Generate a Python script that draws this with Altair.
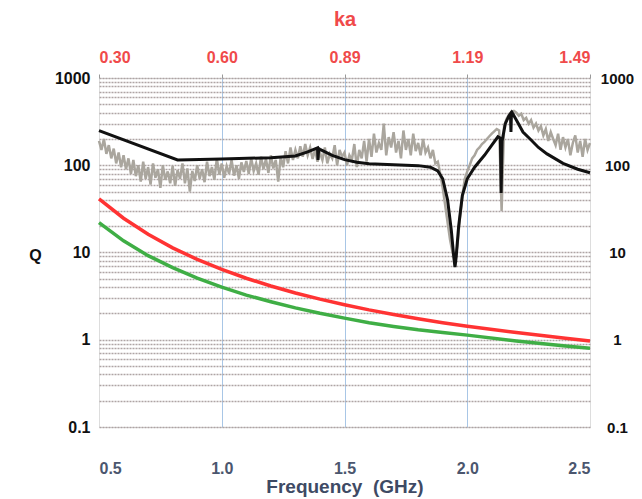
import altair as alt
import pandas as pd

# ---------------- data ----------------
freq_ticks = [0.5, 1.0, 1.5, 2.0, 2.5]
freq_labels = ["0.5", "1.0", "1.5", "2.0", "2.5"]
ka_labels = ["0.30", "0.60", "0.89", "1.19", "1.49"]
q_decades = [0.1, 1, 10, 100, 1000]
q_decade_labels = ["0.1", "1", "10", "100", "1000"]
q_grid = [0.1, 0.2, 0.3, 0.4, 0.5, 0.6, 0.7, 0.8, 0.9,
          1, 2, 3, 4, 5, 6, 7, 8, 9,
          10, 20, 30, 40, 50, 60, 70, 80, 90,
          100, 200, 300, 400, 500, 600, 700, 800, 900, 1000]

# measured Q (gray), sampled every 0.01 GHz from 0.50 to 2.50
meas_q = [
    190, 150, 200, 135, 170, 120, 155, 105, 140, 95,
    130, 90, 120, 80, 115, 75, 100, 65, 110, 70,
    95, 60, 105, 72, 90, 55, 100, 68, 85, 62,
    98, 58, 88, 70, 105, 62, 92, 50, 86, 66,
    100, 70, 90, 64, 110, 75, 95, 68, 120, 78,
    105, 72, 98, 80, 115, 76, 100, 70, 108, 84,
    112, 80, 120, 86, 105, 78, 125, 90, 118, 82,
    130, 92, 115, 65, 125, 95, 145, 105, 160, 115,
    150, 120, 165, 125, 175, 130, 160, 118, 150, 110,
    140, 115, 160, 105, 135, 120, 170, 100, 150, 125,
    140, 100, 130, 115, 175, 95, 150, 120, 190, 110,
    200, 125, 230, 140, 180, 150, 300, 130, 210, 160,
    240, 140, 190, 120, 250, 150, 200, 130, 230, 145,
    180, 130, 200, 140, 160, 120, 150, 105, 110, 80,
    55, 35, 22, 14, 10, 8, 12, 25, 45, 70,
    85, 100, 120, 130, 150, 160, 175, 185, 200, 215,
    230, 245, 260, 250, 30, 280, 340, 380, 410, 420,
    400, 370, 390, 330, 350, 300, 330, 270, 300, 250,
    280, 220, 260, 190, 240, 200, 170, 230, 150, 210,
    160, 200, 130, 180, 220, 140, 190, 125, 200, 150,
    180,
]
meas_f = [round(0.5 + 0.01 * i, 2) for i in range(len(meas_q))]

# simulated Q (black)
sim_f = [0.50, 0.82, 1.00, 1.20, 1.30, 1.35, 1.385, 1.390, 1.392, 1.395, 1.40,
         1.45, 1.50, 1.55, 1.60, 1.70, 1.80, 1.85, 1.88, 1.90, 1.92, 1.935,
         1.945, 1.95, 1.955, 1.965, 1.98, 2.00, 2.03, 2.07, 2.10, 2.125,
         2.135, 2.138, 2.142, 2.155, 2.17, 2.176, 2.178, 2.180, 2.183, 2.20,
         2.227, 2.256, 2.29, 2.325, 2.39, 2.45, 2.50]
sim_q = [250, 115, 118, 122, 128, 142, 156, 158, 115, 155, 152,
         130, 116, 108, 104, 101, 99, 95, 86, 70, 40, 18,
         9, 6.8, 9, 20, 45, 70, 95, 130, 170, 212,
         205, 48, 190, 300, 370, 390, 240, 390, 400, 330,
         240, 200, 160, 135, 105, 90, 82]

# bounds (red and green)
bound_f = [0.5, 0.6, 0.7, 0.8, 0.9, 1.0, 1.1, 1.2, 1.3, 1.4, 1.5,
           1.6, 1.7, 1.8, 1.9, 2.0, 2.2, 2.4, 2.5]
red_q = [41.2, 24.7, 16.2, 11.3, 8.34, 6.40, 5.07, 4.13, 3.44, 2.92, 2.52,
         2.20, 1.95, 1.74, 1.57, 1.43, 1.21, 1.04, 0.97]
green_q = [22.0, 13.6, 9.2, 6.7, 5.1, 4.0, 3.25, 2.73, 2.32, 2.01, 1.77,
           1.57, 1.42, 1.30, 1.21, 1.13, 0.97, 0.85, 0.80]

meas_df = pd.DataFrame({"f": meas_f, "q": meas_q})
sim_df = pd.DataFrame({"f": sim_f, "q": sim_q})
red_df = pd.DataFrame({"f": bound_f, "q": red_q})
green_df = pd.DataFrame({"f": bound_f, "q": green_q})


def lookup_expr(values, labels):
    expr = "''"
    for v, l in reversed(list(zip(values, labels))):
        expr = f"abs(datum.value - {v}) < 1e-6 ? '{l}' : ({expr})"
    return expr


FONT = "Liberation Sans"
W, H = 491, 349
xscale = alt.Scale(domain=[0.5, 2.5], nice=False, zero=False)
yscale = alt.Scale(type="log", domain=[0.1, 1000], nice=False)

x_bottom = alt.X(
    "f:Q", scale=xscale,
    axis=alt.Axis(
        values=freq_ticks, labelExpr=lookup_expr(freq_ticks, freq_labels),
        title="Frequency\u00a0\u00a0(GHz)", grid=True,
        gridColor=alt.condition("datum.value < 0.6 || datum.value > 2.4",
                                alt.value("transparent"), alt.value("#a8c6e6")),
        gridWidth=1, ticks=False, domain=False,
        labelPadding=33, labelColor="#4b566e", labelFont=FONT,
        labelFontSize=16, labelFontWeight="bold",
        titleColor="#3e4a64", titleFont=FONT, titleFontSize=19,
        titleFontWeight="bold", titleY=59, titleBaseline="middle",
    ),
)
y_left = alt.Y(
    "q:Q", scale=yscale,
    axis=alt.Axis(
        values=q_grid, labelExpr=lookup_expr(q_decades, q_decade_labels),
        title="Q", titleAngle=0, titleX=-64, titleY=177, titleAlign="center",
        titleBaseline="middle", titleFont=FONT, titleFontSize=16,
        titleFontWeight="bold", titleColor="#111111",
        grid=True, gridColor="#aea4a4", gridDash=[2, 1], gridWidth=1.3,
        ticks=False, domain=False, labelPadding=9, labelFont=FONT,
        labelFontSize=16, labelFontWeight="bold", labelColor="#111111",
    ),
)

x_top = alt.X(
    "f:Q", scale=xscale,
    axis=alt.Axis(
        orient="top", values=freq_ticks,
        labelExpr=lookup_expr(freq_ticks, ka_labels),
        title="ka", grid=False, ticks=True, tickSize=4, tickColor="#999999",
        domain=False, labelPadding=9, labelColor="#f04a4a", labelFont=FONT,
        labelFontSize=16, labelFontWeight="bold", titleColor="#f04a4a",
        titleFont=FONT, titleFontSize=20, titleFontWeight="bold",
        titleY=-59, titleBaseline="middle",
    ),
)
y_right = alt.Y(
    "q:Q", scale=yscale,
    axis=alt.Axis(
        orient="right", values=q_decades,
        labelExpr=lookup_expr(q_decades, q_decade_labels),
        title=None, grid=False, ticks=False, domain=False, labelPadding=27,
        labelAlign="center", labelBound=False,
        labelFont=FONT, labelFontSize=15, labelFontWeight="bold",
        labelColor="#111111",
    ),
)

gray = alt.Chart(meas_df).mark_line(color="#aaa69e", strokeWidth=2.5).encode(
    x=x_bottom, y=y_left)
red = alt.Chart(red_df).mark_line(color="#ff3333", strokeWidth=3.5).encode(
    x=alt.X("f:Q", scale=xscale, axis=None),
    y=alt.Y("q:Q", scale=yscale, axis=None))
green = alt.Chart(green_df).mark_line(color="#3fae45", strokeWidth=3.5).encode(
    x=alt.X("f:Q", scale=xscale, axis=None),
    y=alt.Y("q:Q", scale=yscale, axis=None))
black = alt.Chart(sim_df).mark_line(color="#111111", strokeWidth=3).encode(
    x=x_top, y=y_right)

chart = (
    alt.layer(gray, red, green, black)
    .resolve_axis(x="independent", y="independent")
    .properties(
        width=W, height=H,
        autosize=alt.AutoSizeParams(type="none"),
        padding={"left": 91, "top": 70, "right": 44, "bottom": 70},
    )
    .configure_view(stroke="#aea4a4", strokeDash=[2, 1], strokeWidth=1.3)
    .configure(background="white")
)

chart.save("out.html", embed_options={"renderer": "svg", "actions": False})
